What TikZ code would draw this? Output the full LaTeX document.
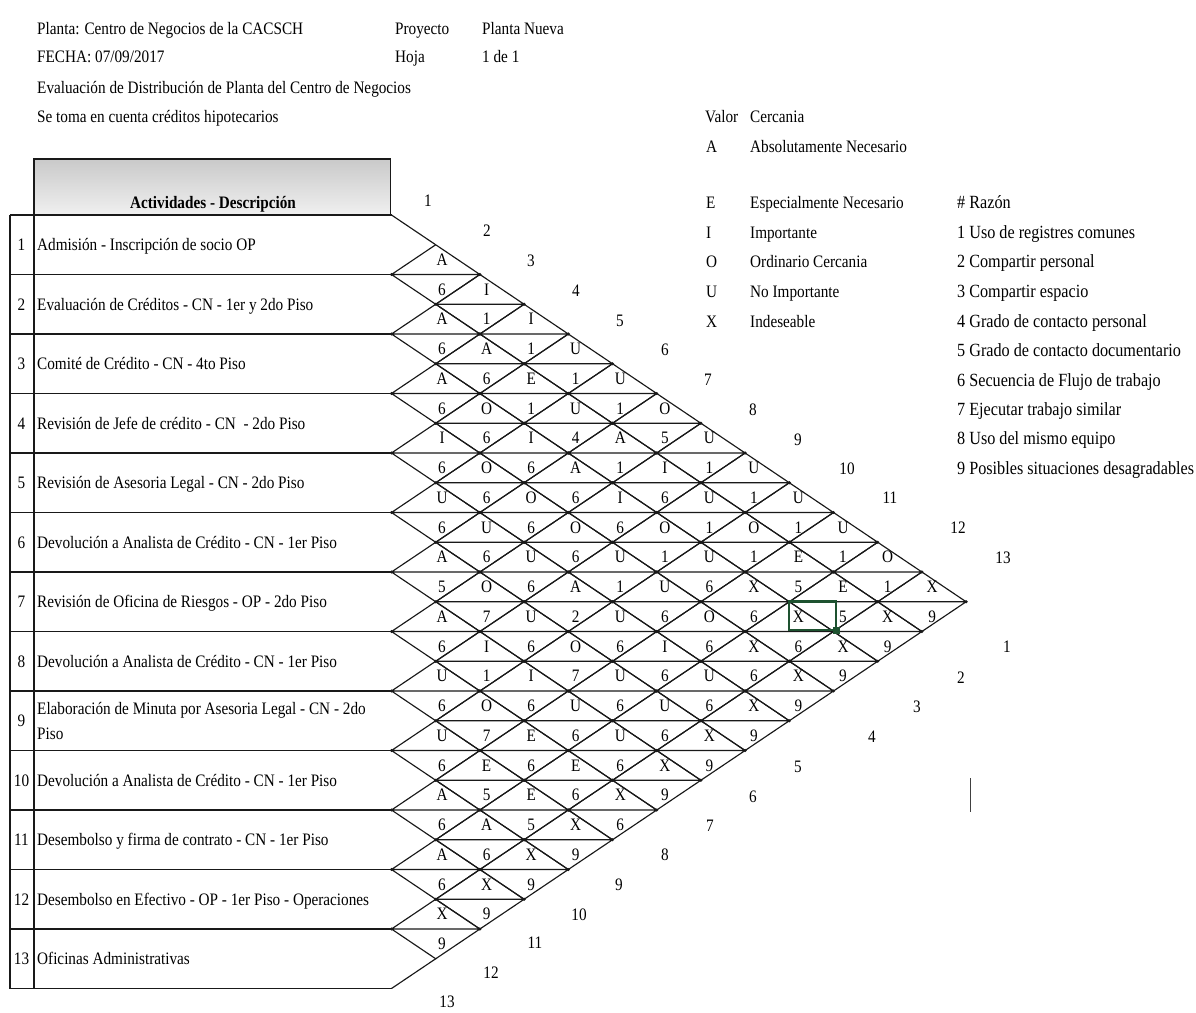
\documentclass[tikz,border=0pt]{standalone}
\usepackage{fontspec}
\setmainfont{Liberation Serif}[FakeStretch=0.87]
\definecolor{selgreen}{RGB}{30,82,48}
\begin{document}
\begin{tikzpicture}[x=1pt,y=-1pt,
  every node/.style={inner sep=0pt, font=\fontsize{17.5}{20}\selectfont, text=black},
  gridline/.style={line width=1.15pt, draw=black!90},
  tableline/.style={line width=1.15pt, draw=black!90},
  lbl/.style={anchor=base west},
  num/.style={anchor=base},
  cell/.style={anchor=center},
  vdot/.style={fill=black!90},
  bigger/.style={font=\fontsize{18.6}{21}\selectfont},
]
% chart geometry: origin of the triangle, half cell width and height
\def\Xo{391.5}\def\hw{44.2}\def\Yo{215}\def\hh{29.75}\def\rowh{59.5}

\fill[white] (0,0) rectangle (1196,1012);
\useasboundingbox (0,0) rectangle (1196,1012);

% ---------- heading block ----------
\node[lbl] (plant)  at (37,34.5)  {Planta: Centro de Negocios de la CACSCH};
\node[lbl] (proj)   at (395,34.5) {Proyecto};
\node[lbl] (projv)  at (482,34.5) {Planta Nueva};
\node[lbl] (date)   at (37,62.5)  {FECHA: 07/09/2017};
\node[lbl] (sheet)  at (395,62.5) {Hoja};
\node[lbl] (sheetv) at (482,62.5) {1 de 1};
\node[lbl] (title)  at (37,93.5)  {Evaluación de Distribución de Planta del Centro de Negocios};
\node[lbl] (note)   at (37,122.5) {Se toma en cuenta créditos hipotecarios};

% ---------- closeness legend ----------
\node[lbl] (valor) at (705,122.5) {Valor};
\node[lbl] (cerc)  at (750,122.5) {Cercania};
\foreach \k/\yy/\txt in {A/152.5/Absolutamente Necesario,
                        E/208.5/Especialmente Necesario,
                        I/238.5/Importante,
                        O/267.5/Ordinario Cercania,
                        U/297.5/No Importante,
                        X/327.5/Indeseable}{
  \node[lbl] (code-\k) at (706,\yy) {\k};
  \node[lbl] (desc-\k) at (750,\yy) {\txt};
}

% ---------- reason legend ----------
\node[lbl, bigger] (razon) at (957,208.5) {\# Razón};
\foreach \k/\yy/\txt in {1/238.5/Uso de registres comunes,
                        2/267.5/Compartir personal,
                        3/297.5/Compartir espacio,
                        4/327.5/Grado de contacto personal,
                        5/356.5/Grado de contacto documentario,
                        6/386.5/Secuencia de Flujo de trabajo,
                        7/415.5/Ejecutar trabajo similar,
                        8/444.5/Uso del mismo equipo,
                        9/474.5/Posibles situaciones desagradables}{
  \node[lbl, bigger] (reason-\k) at (957,\yy) {\k\ \txt};
}

% ---------- activity table ----------
\shade[top color=gray!42, bottom color=gray!12] (34,159) rectangle (390.5,215);
\draw[tableline] (34,215) -- (34,159) -- (390.5,159) -- (390.5,215);
\node[anchor=base, font=\fontsize{17.5}{20}\selectfont\bfseries] (head) at (213,208.5) {Actividades - Descripción};
\draw[tableline] (10,\Yo) -- (10,\Yo+13*\rowh);
\draw[tableline] (34,\Yo) -- (34,\Yo+13*\rowh);
\foreach \k in {0,...,13}
  \draw[tableline] (10,\Yo+\rowh*\k) -- (\Xo,\Yo+\rowh*\k);

\foreach \k/\txt in {1/Admisión - Inscripción de socio OP,
                    2/Evaluación de Créditos - CN - 1er y 2do Piso,
                    3/Comité de Crédito - CN - 4to Piso,
                    4/Revisión de Jefe de crédito - CN \ - 2do Piso,
                    5/Revisión de Asesoria Legal - CN - 2do Piso,
                    6/Devolución a Analista de Crédito - CN - 1er Piso,
                    7/Revisión de Oficina de Riesgos - OP - 2do Piso,
                    8/Devolución a Analista de Crédito - CN - 1er Piso,
                    10/Devolución a Analista de Crédito - CN - 1er Piso,
                    11/Desembolso y firma de contrato - CN - 1er Piso,
                    12/Desembolso en Efectivo - OP - 1er Piso - Operaciones,
                    13/Oficinas Administrativas}{
  \node[num] (n-\k) at (21.5,\Yo+\rowh*\k-\rowh/2+6) {\k};
  \node[lbl] (a-\k) at (37,\Yo+\rowh*\k-\rowh/2+6) {\txt};
}
\node[num] (n-9) at (21.5,\Yo+\rowh*8.5+6) {9};
\node[lbl] (a-9a) at (37,714) {Elaboración de Minuta por Asesoria Legal - CN - 2do};
\node[lbl] (a-9b) at (37,739) {Piso};

% ---------- relationship diamonds ----------
\draw[gridline] (\Xo,\Yo) -- (\Xo+\hw,\Yo+\hh);
\draw[gridline] (\Xo,\Yo+26*\hh) -- (\Xo+\hw,\Yo+25*\hh);
\foreach \i in {1,...,12}{
  \pgfmathtruncatemacro\js{\i+1}
  \foreach \j in {\js,...,13}{
    \pgfmathsetmacro\cx{\Xo+\hw*(\j-\i)}
    \pgfmathsetmacro\cy{\Yo+\hh*(\i+\j-1)}
    \draw[gridline] (\cx-\hw,\cy) -- (\cx,\cy-\hh) -- (\cx+\hw,\cy) -- (\cx,\cy+\hh) -- cycle
                    (\cx-\hw,\cy) -- (\cx+\hw,\cy);
    \fill[vdot] (\cx-\hw,\cy) circle (1.7pt) (\cx+\hw,\cy) circle (1.7pt);
  }
}

% closeness values (upper half) and reasons (lower half), by text line
\foreach \r/\items in {
  1/{A},
  2/{6,I},
  3/{A,1,I},
  4/{6,A,1,U},
  5/{A,6,E,1,U},
  6/{6,O,1,U,1,O},
  7/{I,6,I,4,A,5,U},
  8/{6,O,6,A,1,I,1,U},
  9/{U,6,O,6,I,6,U,1,U},
  10/{6,U,6,O,6,O,1,O,1,U},
  11/{A,6,U,6,U,1,U,1,E,1,O},
  12/{5,O,6,A,1,U,6,X,5,E,1,X},
  13/{A,7,U,2,U,6,O,6,X,5,X,9},
  14/{6,I,6,O,6,I,6,X,6,X,9},
  15/{U,1,I,7,U,6,U,6,X,9},
  16/{6,O,6,U,6,U,6,X,9},
  17/{U,7,E,6,U,6,X,9},
  18/{6,E,6,E,6,X,9},
  19/{A,5,E,6,X,9},
  20/{6,A,5,X,6},
  21/{A,6,X,9},
  22/{6,X,9},
  23/{X,9},
  24/{9}}{
  \foreach \t [count=\m] in \items {
    \node[cell] (c-\r-\m) at (\Xo+\hw*\m+6+0.35*\m, \Yo+\hh*\r+\hh/2) {\t};
  }
}

% activity numbers along both edges
\foreach \k/\px/\py in {1/428/201,2/487/231,3/531/261,4/576/291,5/620/321,6/665/350,
                        7/708/380,8/753/410,9/798/440,10/847/469,11/890/498,12/958/528,13/1003/558}
  \node[cell] (top-\k) at (\px,\py) {\k};
\foreach \k/\px/\py in {1/1007/647,2/961/678,3/917/707,4/872/737,5/798/767,6/753/797,
                        7/710/826,8/665/855,9/619/885,10/579/915,11/535/943,12/491/973,13/447/1002}
  \node[cell] (bot-\k) at (\px,\py) {\k};

% selected cell frame with its handle
\draw[line width=2.4pt, selgreen] (789,601.5) rectangle (836,630);
\fill[selgreen] (832.5,626.5) rectangle (839.5,633.5);

% text cursor mark
\draw[line width=1pt, black!75] (970,778) -- (970,812);
\end{tikzpicture}
\end{document}
